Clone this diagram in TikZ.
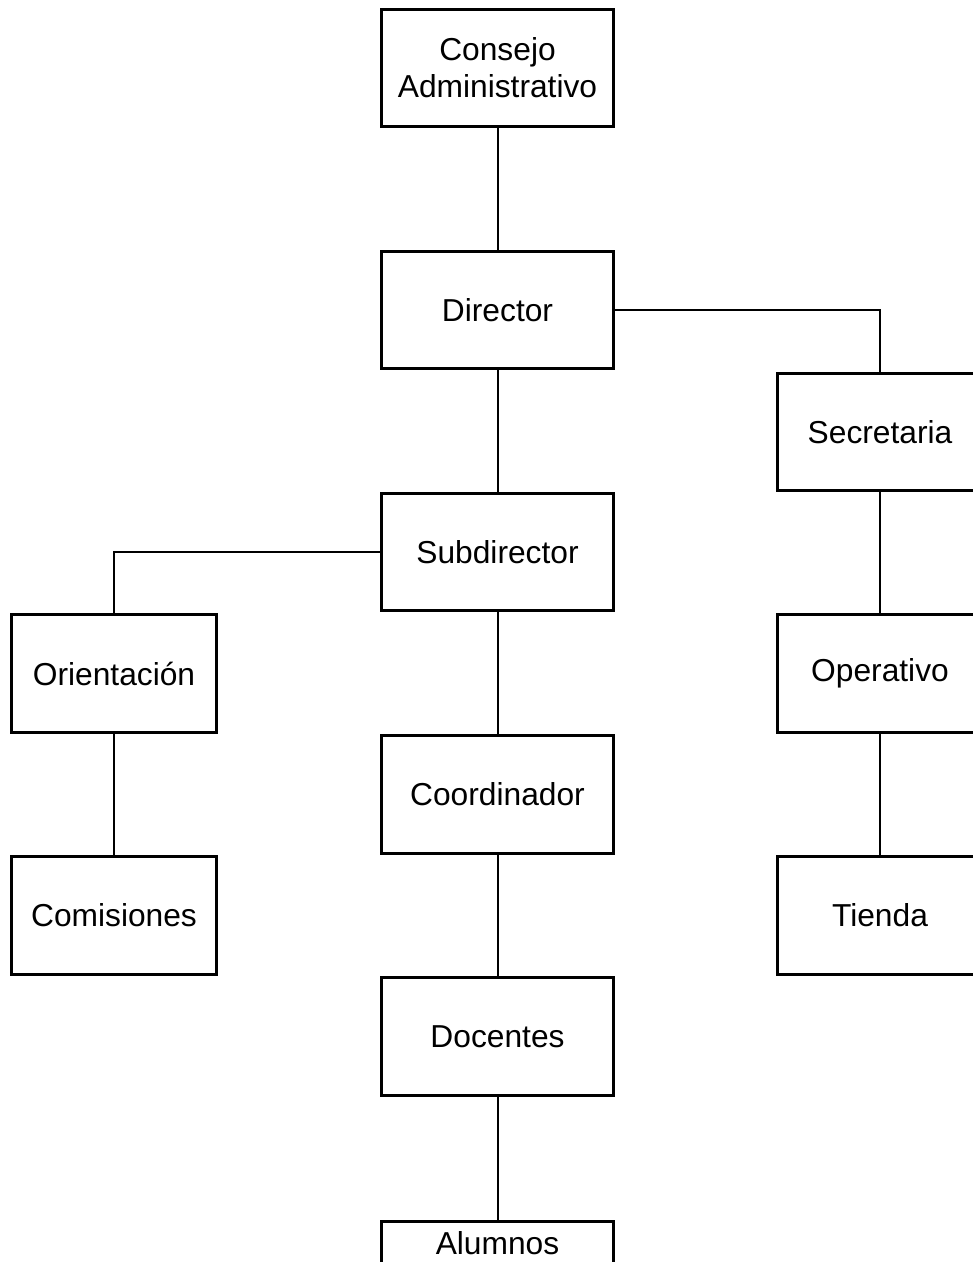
\documentclass[tikz,border=0pt]{standalone}
\usepackage{fontspec}
\setmainfont{Liberation Sans}
\begin{document}
\begin{tikzpicture}[x=0.75pt, y=-0.75pt,
  box/.style={draw, line width=2.25pt, minimum width=174pt, minimum height=88pt,
    inner sep=0pt, align=center, font=\fontsize{23.8}{27.75}\selectfont},
  narrow/.style={box, minimum width=154pt},
  link/.style={line width=1.5pt}]
\useasboundingbox (0,0) rectangle (973,1262);

\node[box] (cons) at (497.5,68) {Consejo\\Administrativo};
\node[box] (dir) at (497.5,310) {Director};
\node[narrow] (sec) at (880,432) {Secretaria};
\node[box] (sub) at (497.5,552) {Subdirector};
\node[narrow] (ori) at (114,673.5) {Orientación};
\node[narrow] (ope) at (880,673.5) {Operativo};
\node[box] (coo) at (497.5,794.5) {Coordinador};
\node[narrow] (com) at (114,915.5) {Comisiones};
\node[narrow] (tie) at (880,915.5) {Tienda};
\node[box] (doc) at (497.5,1036.5) {Docentes};
\node[box, text height=24.75pt, text depth=63.25pt, anchor=north] (alu) at (497.5,1219.5) {Alumnos};

\draw[link] (cons) -- (dir);
\draw[link] (dir.east) -| (sec.north);
\draw[link] (dir) -- (sub);
\draw[link] (sub.west) -| (ori.north);
\draw[link] (sub) -- (coo);
\draw[link] (ori) -- (com);
\draw[link] (sec) -- (ope);
\draw[link] (ope) -- (tie);
\draw[link] (coo) -- (doc);
\draw[link] (doc) -- (alu);
\end{tikzpicture}
\end{document}
